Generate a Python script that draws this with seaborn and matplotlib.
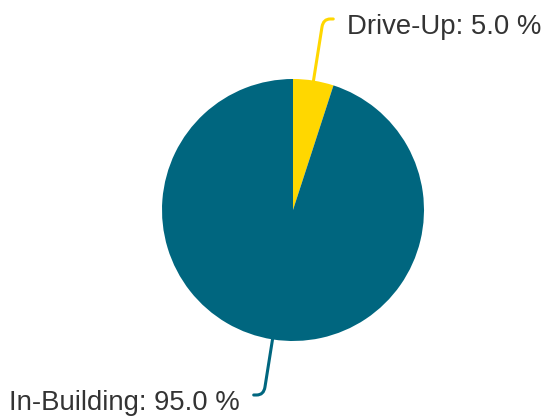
import numpy as np
import matplotlib
matplotlib.use("Agg")
import matplotlib.pyplot as plt
import seaborn as sns
from matplotlib.path import Path
from matplotlib.patches import PathPatch

# chart data
labels = ["Drive-Up", "In-Building"]
shares = [5.0, 95.0]
colors = ["#FFD700", "#00667F"]

sns.set_theme(style="white")
plt.rcParams['font.family'] = ['Liberation Sans', 'DejaVu Sans']

W, H = 546, 417
fig = plt.figure(figsize=(W / 100, H / 100), dpi=100)
ax = fig.add_axes([0, 0, 1, 1])

cx, cy, r = 293, H - 210, 131
wedges, _ = ax.pie(shares, colors=colors, startangle=90, counterclock=False,
                   center=(cx, cy), radius=r, wedgeprops=dict(linewidth=0))
ax.set_xlim(0, W)
ax.set_ylim(0, H)
ax.set_aspect('equal')
ax.axis('off')

# leader lines with a rounded elbow, then the label
elbow_r = [193.4, 187.3]
for w, lab, val, col, re in zip(wedges, labels, shares, colors, elbow_r):
    ang = np.deg2rad((w.theta1 + w.theta2) / 2)
    dx, dy = np.cos(ang), np.sin(ang)
    side = 1 if dx > 0 else -1
    p0 = (cx + (r - 2) * dx, cy + (r - 2) * dy)
    b = (cx + (re - 8) * dx, cy + (re - 8) * dy)
    e = (cx + re * dx, cy + re * dy)
    c = (e[0] + side * 7, e[1])
    end = (e[0] + side * 10, e[1])
    path = Path([p0, b, e, c, end],
                [Path.MOVETO, Path.LINETO, Path.CURVE3, Path.CURVE3, Path.LINETO])
    ax.add_patch(PathPatch(path, fill=False, edgecolor=col, lw=2.2,
                           capstyle='round', joinstyle='round'))
    ax.text(e[0] + side * 24, e[1] - 15.5, f"{lab}: {val:.1f} %",
            ha='left' if side > 0 else 'right', va='baseline',
            fontsize=19.8, color="#333333")

fig.savefig("out.png", dpi=100)
